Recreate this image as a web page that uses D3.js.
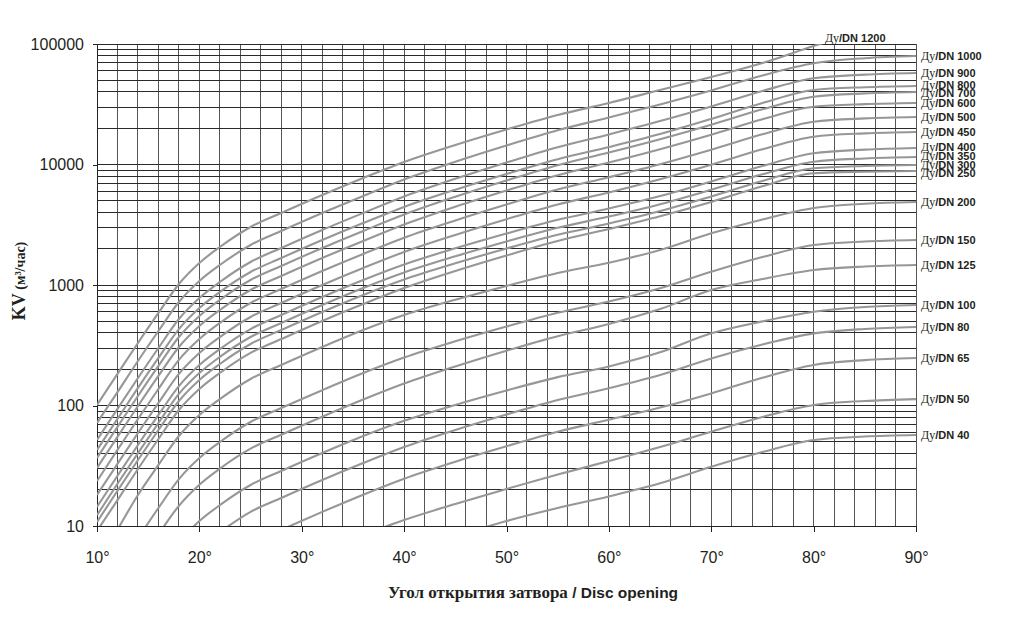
<!DOCTYPE html>
<html><head><meta charset="utf-8">
<script src="https://cdn.jsdelivr.net/npm/d3@7/dist/d3.min.js"></script>
<style>
html,body{margin:0;padding:0;background:#fff;}
svg{display:block;}
</style></head><body>
<svg id="chart" width="1024" height="618"></svg>
<script>
// ---- data (Kv, m3/h) ----
const angles = [10,12,14,16,18,20,22,25,28,32,36,40,45,50,55,60,65,70,75,80,85,90];
const xTicks = [10,20,30,40,50,60,70,80,90];
const yTicks = [10,100,1000,10000,100000];
const seriesNames = ["1200","1000","900","800","700","600","500","450","400","350","300","250","200","150","125","100","80","65","50","40"];

const dn1200 = [101,183,330,586,1019,1522,2067,3029,3958,5583,7726,10490,14516,19520,25750,32380,41520,53240,69560,96250,130700,null];
const dn1000 = [71.6,129,234,415,723,1080,1465,2147,2806,3958,5477,7508,10550,14380,19220,24550,31530,41200,54770,69160,76240,79520];
const dn900  = [51.7,93.8,169,300,522,780,1059,1552,2028,2860,3958,5427,7620,10394,13919,17752,22920,30290,40730,51930,55720,57450];
const dn800  = [42.7,77.4,140,248,431,644,875,1282,1675,2363,3270,4445,6177,8342,11052,13957,17910,23860,32380,41520,43810,44830];
const dn700  = [36.7,66.5,120,213,370,553,751,1100,1438,2028,2806,3847,5404,7366,9866,12570,16220,21400,28720,36530,38910,39970];
const dn600  = [30.3,54.9,99,176,306,457,620,909,1188,1675,2318,3177,4464,6083,8149,10385,13400,17670,23720,30180,31710,32380];
const dn500  = [23.6,42.8,77.2,137,239,356,484,709,926,1307,1809,2469,3437,4657,6190,7844,10060,13270,17810,22650,24130,24790];
const dn450  = [18.1,32.8,59.1,105,183,273,370,543,709,1000,1384,1880,2606,3517,4656,5866,7551,9962,13370,17010,18120,18610];
const dn400  = [14.4,26.1,47.0,83.5,145,217,294,431,564,795,1100,1480,2016,2675,3476,4313,5468,7226,9722,12390,13290,13710];
const dn350  = [12.3,22.4,40.3,71.6,125,186,253,370,484,682,944,1270,1730,2296,2983,3701,4684,6179,8292,10550,11230,11540];
const dn300  = [10.8,19.6,35.3,62.6,109,163,221,324,423,597,826,1111,1514,2008,2610,3238,4105,5426,7296,9300,9722,9905];
const dn250  = [9.1,16.4,29.7,52.7,91.7,137,186,273,356,503,695,944,1307,1757,2318,2915,3717,4884,6606,8452,8714,8832];
const dn200  = [null,9.3,18.1,32.1,55.8,83.4,113,166,217,306,423,563,755,983,1258,1531,1952,2686,3503,4355,4720,4884];
const dn150  = [null,null,7.9,14.1,24.5,36.7,49.8,73.0,95.3,134,186,250,341,452,588,729,939,1289,1708,2147,2296,2363];
const dn125  = [null,null,null,8.5,14.7,22.0,29.9,43.8,57.2,80.7,112,152,211,285,376,475,631,909,1121,1332,1424,1465];
const dn100  = [null,null,null,null,7.4,11.0,14.9,21.9,28.6,40.3,55.8,74.7,101,133,172,211,276,397,499,600,657,682];
const dn80   = [null,null,null,null,null,null,8.9,13.1,17.1,24.1,33.3,45.2,62.6,84.1,111,139,179,246,321,397,432,448];
const dn65   = [null,null,null,null,null,null,null,null,9.3,13.1,18.2,24.7,34.2,45.9,60.6,76.2,96.1,126,170,217,238,248];
const dn50   = [null,null,null,null,null,null,null,null,null,null,8.4,11.2,15.2,20.3,26.7,34.6,45.2,60.6,80.3,101,109,113];
const dn40   = [null,null,null,null,null,null,null,null,null,null,null,null,8.2,11.0,14.1,17.6,22.6,31.0,41.1,51.7,55.3,56.9];

const seriesValues = [dn1200,dn1000,dn900,dn800,dn700,dn600,dn500,dn450,dn400,dn350,dn300,dn250,dn200,dn150,dn125,dn100,dn80,dn65,dn50,dn40];
const series = seriesNames.map((n,i)=>({name:n, values:seriesValues[i]}));

// ---- layout ----
const svg = d3.select("#chart");
const L = 97, R = 916, T = 44, B = 526;
const x = d3.scaleLinear().domain([10,90]).range([L,R]);
const y = d3.scaleLog().domain([10,100000]).range([B,T]);
const textCol = "#231f20";

svg.append("rect").attr("width",1024).attr("height",618).attr("fill","#fff");

// grid
const hGrid = [];
[10,100,1000,10000].forEach(dec=>{ for(let k=1;k<10;k++) hGrid.push(k*dec); });
hGrid.push(100000);
const grid = svg.append("g").attr("shape-rendering","crispEdges");
grid.selectAll("line.v").data(d3.range(10,91,2)).join("line")
  .attr("x1",d=>x(d)).attr("x2",d=>x(d)).attr("y1",T).attr("y2",B)
  .attr("stroke","#555").attr("stroke-width",1);
grid.selectAll("line.h").data(hGrid).join("line")
  .attr("x1",L).attr("x2",R).attr("y1",d=>y(d)).attr("y2",d=>y(d))
  .attr("stroke","#2a2a2a").attr("stroke-width",1);

// axes
const xAxis = svg.append("g").attr("transform",`translate(0,${B})`)
  .call(d3.axisBottom(x).tickValues(xTicks).tickSize(6).tickSizeOuter(0).tickPadding(20).tickFormat(d=>d+"°"));
const yAxis = svg.append("g").attr("transform",`translate(${L},0)`)
  .call(d3.axisLeft(y).tickValues(yTicks).tickSize(4).tickSizeOuter(0).tickPadding(9).tickFormat(d3.format("d")));
[xAxis,yAxis].forEach(a=>{
  a.selectAll("path.domain").attr("stroke","#222").attr("shape-rendering","crispEdges");
  a.selectAll(".tick line").attr("stroke","#222").attr("shape-rendering","crispEdges");
  a.selectAll("text").attr("font-family","'Liberation Sans', Arial, sans-serif")
    .attr("font-size",16).attr("fill",textCol);
});

// curves
svg.append("clipPath").attr("id","plotclip").append("rect")
  .attr("x",L).attr("y",T).attr("width",R-L).attr("height",B-T);
const line = d3.line().defined(d=>d[1]!=null)
  .x(d=>x(d[0])).y(d=>y(d[1])).curve(d3.curveMonotoneX);
svg.append("g").attr("clip-path","url(#plotclip)")
  .selectAll("path").data(series).join("path")
  .attr("d",s=>line(angles.map((a,i)=>[a,s.values[i]])))
  .attr("fill","none").attr("stroke","#979797").attr("stroke-width",2.1)
  .attr("stroke-linejoin","round");

// right-hand labels
const labs = series.filter(s=>s.values[s.values.length-1]!=null).map(s=>({
  name:s.name, y:y(s.values[s.values.length-1]) - 1.5}));
labs.sort((a,b)=>a.y-b.y);
const gap = 8.6;
for(let it=0; it<60; it++){
  for(let i=1;i<labs.length;i++){
    const d = labs[i].y - labs[i-1].y;
    if(d<gap){ const s=(gap-d)/2; labs[i-1].y-=s; labs[i].y+=s; }
  }
}
function dnLabel(g, lx, ly, name){
  const t = g.append("text").attr("x",lx).attr("y",ly).attr("dy","0.35em").attr("fill",textCol);
  t.append("tspan").attr("font-family","'Liberation Serif','Times New Roman',serif")
    .attr("font-size",12).text("Ду");
  t.append("tspan").attr("font-family","'Liberation Sans', Arial, sans-serif")
    .attr("font-weight","bold").attr("font-size",11).text("/DN " + name);
}
const lg = svg.append("g");
labs.forEach(l=>dnLabel(lg, R+5, l.y, l.name));
dnLabel(lg, x(81.1), 36, "1200");

// axis titles
const xt = svg.append("text").attr("x",533).attr("y",598).attr("text-anchor","middle").attr("fill",textCol);
xt.append("tspan").attr("font-family","'Liberation Serif','Times New Roman',serif")
  .attr("font-weight","bold").attr("font-size",17).text("Угол открытия затвора");
xt.append("tspan").attr("font-family","'Liberation Sans', Arial, sans-serif")
  .attr("font-weight","bold").attr("font-size",15.5).text(" / Disc opening");

const yt = svg.append("text").attr("transform","translate(25,281) rotate(-90)")
  .attr("text-anchor","middle").attr("fill",textCol)
  .attr("font-family","'Liberation Serif','Times New Roman',serif").attr("font-weight","bold");
yt.append("tspan").attr("font-size",18).text("KV");
yt.append("tspan").attr("font-size",14).text(" (м³/час)");
</script>
</body></html>
